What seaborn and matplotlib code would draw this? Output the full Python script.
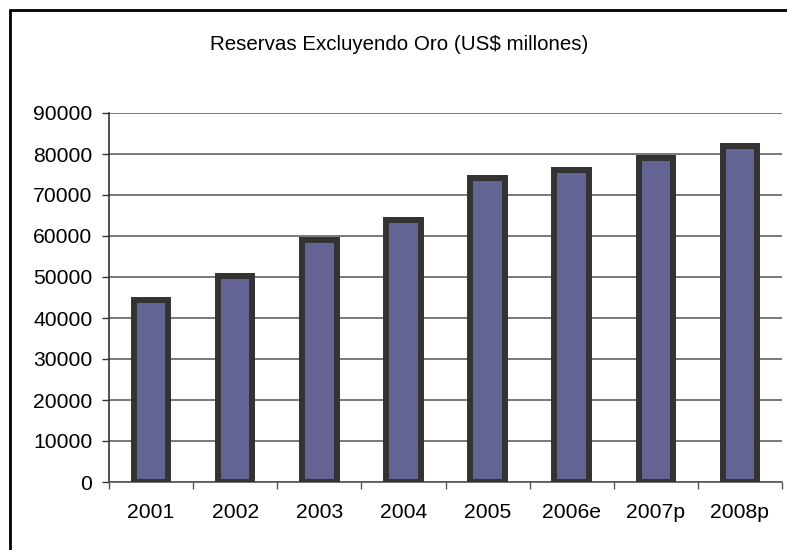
import matplotlib
matplotlib.use("Agg")
import matplotlib.pyplot as plt
import seaborn as sns
import pandas as pd
from matplotlib.lines import Line2D
from matplotlib.ticker import FixedLocator

years = ["2001", "2002", "2003", "2004", "2005", "2006e", "2007p", "2008p"]
reservas = [44400, 50300, 59000, 63900, 74100, 76100, 79000, 82000]
y_ticks = [0, 10000, 20000, 30000, 40000, 50000, 60000, 70000, 80000, 90000]
title = "Reservas Excluyendo Oro (US$ millones)"

sns.set_theme(style="white")
plt.rcParams["font.family"] = ["Liberation Sans", "DejaVu Sans"]

W, H = 787, 550
fig = plt.figure(figsize=(W / 100, H / 100), dpi=100)
ax = fig.add_axes([109 / W, 1 - 482 / H, (782 - 109) / W, (482 - 113) / H])

df = pd.DataFrame({"year": years, "value": reservas})
sns.barplot(data=df, x="year", y="value", ax=ax, color="#636394", saturation=1,
            width=0.41, edgecolor="#333333", linewidth=4.3, zorder=3)

ax.set_ylim(0, 90000)
ax.set_xlim(-0.5, len(years) - 0.5)
ax.set_yticks(y_ticks)
ax.set_yticklabels([str(v) for v in y_ticks])
ax.yaxis.grid(True, color="#6e6e6e", linewidth=1.3, zorder=0)
ax.set_axisbelow(True)
ax.set_xlabel("")
ax.set_ylabel("")

for s in ["top", "right"]:
    ax.spines[s].set_visible(False)
ax.spines["left"].set_color("#333333")
ax.spines["bottom"].set_color("#555555")
ax.spines["left"].set_linewidth(1.2)
ax.spines["bottom"].set_linewidth(1.2)

ax.tick_params(axis="y", which="major", length=5, width=1, color="#333333",
               labelsize=15.2, pad=7, left=True, labelcolor="black")
ax.tick_params(axis="x", which="major", length=0, labelsize=15.2, pad=15,
               labelcolor="black")
ax.xaxis.set_minor_locator(FixedLocator([i + 0.5 for i in range(-1, len(years))]))
ax.tick_params(axis="x", which="minor", length=5, width=1, color="#555555",
               bottom=True)

fig.text(399 / W, 1 - 45 / H, title, ha="center", va="center", fontsize=14.8,
         color="black")

# outer frame (left and top edges visible)
fig.add_artist(Line2D([9.5 / W, 9.5 / W], [0, 1 - 9.5 / H], transform=fig.transFigure,
                      color="black", linewidth=2))
fig.add_artist(Line2D([9.5 / W, 1], [1 - 9.5 / H, 1 - 9.5 / H], transform=fig.transFigure,
                      color="black", linewidth=2))

fig.savefig("out.png", dpi=100)
